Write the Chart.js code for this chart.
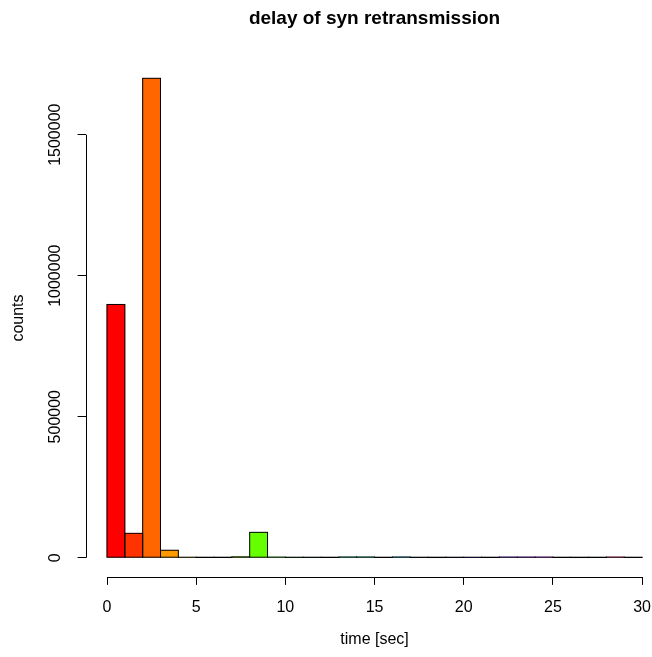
<!DOCTYPE html>
<html>
<head>
<meta charset="utf-8">
<title>delay of syn retransmission</title>
<script src="https://cdn.jsdelivr.net/npm/chart.js@4/dist/chart.umd.min.js"></script>
<style>
  html, body { margin: 0; padding: 0; background: #fff; overflow: hidden; }
  canvas { display: block; }
</style>
</head>
<body>
<canvas id="hist" width="664" height="657"></canvas>
<script>
// Histogram bins: left edge of each one-second bin
const binLeft = [0, 1, 2, 3, 4, 5, 6, 7, 8, 9,
                 10, 11, 12, 13, 14, 15, 16, 17, 18, 19,
                 20, 21, 22, 23, 24, 25, 26, 27, 28, 29];
const binWidth = 1;

// SYN retransmission counts per bin
const counts = [898000, 86500, 1700000, 26500, 1500, 800, 800, 3000, 90000, 2000,
                1200, 1000, 800, 2500, 2500, 800, 2500, 1000, 700, 1000,
                1500, 800, 2000, 2000, 2000, 800, 700, 800, 2000, 900];

// one rainbow colour per bin
const barColors = ['#FF0000', '#FF3300', '#FF6600', '#FF9900', '#FFCC00', '#FFFF00',
                   '#CCFF00', '#99FF00', '#66FF00', '#33FF00', '#00FF00', '#00FF33',
                   '#00FF66', '#00FF99', '#00FFCC', '#00FFFF', '#00CCFF', '#0099FF',
                   '#0066FF', '#0033FF', '#0000FF', '#3300FF', '#6600FF', '#9900FF',
                   '#CC00FF', '#FF00FF', '#FF00CC', '#FF0099', '#FF0066', '#FF0033'];

const xTicks = [0, 5, 10, 15, 20, 25, 30];
const yTicks = [0, 500000, 1000000, 1500000];
const yTickLabels = ['0', '500000', '1000000', '1500000'];

const FONT = "'Liberation Sans', Arial, Helvetica, sans-serif";

// 4% padding on both ends of each axis range
const xLo = xTicks[0], xHi = xTicks[xTicks.length - 1];
const xPad = (xHi - xLo) * 0.04;
const yTop = Math.max(...counts);
const yPad = yTop * 0.04;

const points = binLeft.map((l, i) => ({ x: l + binWidth / 2, y: counts[i] }));

// outlines every bar rectangle (also the ones that are only a hairline high)
const barOutline = {
  id: 'barOutline',
  afterDatasetsDraw(chart) {
    const ctx = chart.ctx;
    const meta = chart.getDatasetMeta(0);
    ctx.save();
    ctx.strokeStyle = '#000';
    ctx.lineWidth = 1;
    meta.data.forEach(bar => {
      const p = bar.getProps(['x', 'y', 'base', 'width'], true);
      const left = p.x - p.width / 2;
      ctx.strokeRect(left, p.y, p.width, p.base - p.y);
    });
    ctx.restore();
  }
};

// axis lines spanning first..last tick, plus rotated y tick labels
const axesDecor = {
  id: 'axesDecor',
  afterDraw(chart) {
    const ctx = chart.ctx;
    const xs = chart.scales.x, ys = chart.scales.y;
    const area = chart.chartArea;
    ctx.save();
    ctx.strokeStyle = '#000';
    ctx.lineWidth = 1;
    ctx.beginPath();
    const by = Math.round(area.bottom) + 0.5;
    ctx.moveTo(xs.getPixelForValue(xLo), by);
    ctx.lineTo(xs.getPixelForValue(xHi), by);
    const lx = Math.round(area.left) + 0.5;
    ctx.moveTo(lx, ys.getPixelForValue(yTicks[0]));
    ctx.lineTo(lx, ys.getPixelForValue(yTicks[yTicks.length - 1]));
    ctx.stroke();

    ctx.fillStyle = '#000';
    ctx.font = '16px ' + FONT;
    ctx.textAlign = 'center';
    ctx.textBaseline = 'middle';
    yTicks.forEach((v, i) => {
      const py = ys.getPixelForValue(v);
      ctx.save();
      ctx.translate(area.left - 30, py);
      ctx.rotate(-Math.PI / 2);
      ctx.fillText(yTickLabels[i], 0, 0);
      ctx.restore();
    });
    ctx.restore();
  }
};

new Chart(document.getElementById('hist'), {
  type: 'bar',
  data: {
    datasets: [{
      data: points,
      backgroundColor: barColors,
      borderWidth: 0,
      barPercentage: 1,
      categoryPercentage: 1
    }]
  },
  options: {
    responsive: false,
    animation: false,
    devicePixelRatio: 1,
    layout: { padding: 0 },
    plugins: {
      legend: { display: false },
      tooltip: { enabled: false },
      title: {
        display: true,
        fullSize: false,
        text: 'delay of syn retransmission',
        color: '#000',
        font: { family: FONT, size: 19, weight: 'bold' },
        padding: { top: 7, bottom: 29.3 }
      }
    },
    scales: {
      x: {
        type: 'linear',
        offset: false,
        min: xLo - xPad,
        max: xHi + xPad,
        afterBuildTicks(s) { s.ticks = xTicks.map(v => ({ value: v })); },
        afterFit(s) { s.height = 80.1; },
        border: { display: false },
        grid: { offset: false, drawOnChartArea: false, drawTicks: true, tickLength: 8, color: '#000', lineWidth: 1 },
        ticks: { color: '#000', font: { family: FONT, size: 16 }, padding: 13, maxRotation: 0, autoSkip: false },
        title: { display: true, text: 'time [sec]', color: '#000', font: { family: FONT, size: 16 }, padding: { top: 0, bottom: 7.4 } }
      },
      y: {
        min: -yPad,
        max: yTop + yPad,
        afterBuildTicks(s) { s.ticks = yTicks.map(v => ({ value: v })); },
        afterFit(s) { s.width = 85.6; },
        border: { display: false },
        grid: { drawOnChartArea: false, drawTicks: true, tickLength: 8, color: '#000', lineWidth: 1 },
        ticks: { display: false },
        title: { display: true, text: 'counts', color: '#000', font: { family: FONT, size: 16 }, padding: { top: 9.4, bottom: 0 } }
      }
    }
  },
  plugins: [barOutline, axesDecor]
});
</script>
</body>
</html>
